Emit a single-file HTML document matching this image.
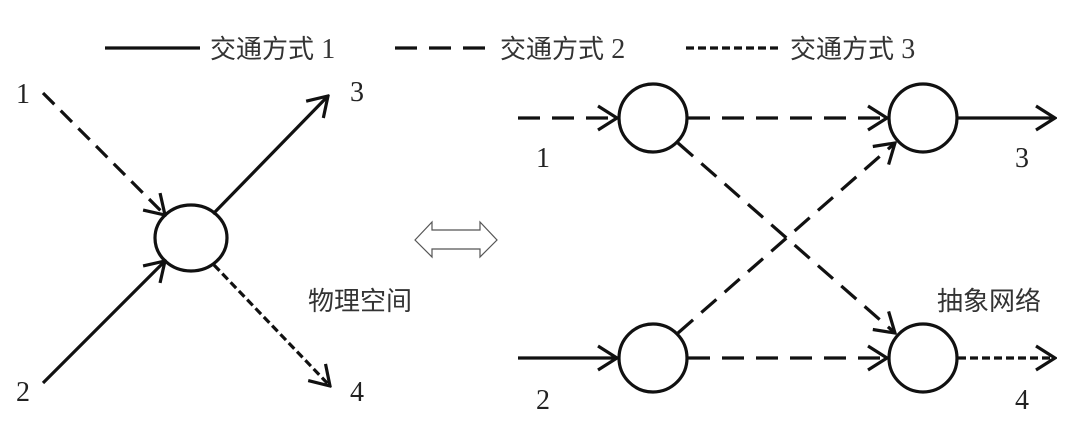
<!DOCTYPE html>
<html><head><meta charset="utf-8"><style>
html,body{margin:0;padding:0;background:#fff;}
svg{display:block;}
text{font-family:"Liberation Serif","Noto Sans CJK SC",serif;fill:#222;}
.cj{font-family:"Liberation Sans","Noto Sans CJK SC",sans-serif;fill:#333;}
</style></head><body>
<svg width="1080" height="423" viewBox="0 0 1080 423" xmlns="http://www.w3.org/2000/svg">
<defs>
<marker id="a" viewBox="0 0 24 28" refX="22" refY="14" markerWidth="24" markerHeight="28" markerUnits="userSpaceOnUse" orient="auto">
<path d="M3,2 L22,14 L3,26" fill="none" stroke="#111" stroke-width="3.2"/>
</marker>
</defs>
<g stroke="#111" stroke-width="3.2" fill="none">
<!-- legend -->
<line x1="105" y1="48" x2="200" y2="48"/>
<line x1="395" y1="48" x2="492" y2="48" stroke-dasharray="22,12"/>
<line x1="686" y1="48" x2="781" y2="48" stroke-dasharray="8,4"/>
<!-- left -->
<ellipse cx="191" cy="238" rx="36" ry="33"/>
<line x1="43" y1="93" x2="165" y2="215" stroke-dasharray="16,9" marker-end="url(#a)"/>
<line x1="43" y1="383" x2="165" y2="261" marker-end="url(#a)"/>
<line x1="213" y1="214" x2="328" y2="96" marker-end="url(#a)"/>
<line x1="214" y1="265" x2="330" y2="386" stroke-dasharray="8,4" marker-end="url(#a)"/>
<!-- right -->
<circle cx="653" cy="118" r="34"/>
<circle cx="923" cy="118" r="34"/>
<circle cx="653" cy="358" r="34"/>
<circle cx="923" cy="358" r="34"/>
<line x1="518" y1="118" x2="617" y2="118" stroke-dasharray="22,12" marker-end="url(#a)"/>
<line x1="688" y1="118" x2="887" y2="118" stroke-dasharray="22,12" marker-end="url(#a)"/>
<line x1="958" y1="118" x2="1055" y2="118" marker-end="url(#a)"/>
<line x1="518" y1="358" x2="617" y2="358" marker-end="url(#a)"/>
<line x1="688" y1="358" x2="887" y2="358" stroke-dasharray="22,12" marker-end="url(#a)"/>
<line x1="958" y1="358" x2="1055" y2="358" stroke-dasharray="8,4" marker-end="url(#a)"/>
<line x1="678" y1="143" x2="895" y2="333" stroke-dasharray="20,11" marker-end="url(#a)"/>
<line x1="678" y1="333" x2="895" y2="143" stroke-dasharray="20,11" marker-end="url(#a)"/>
</g>
<!-- double arrow -->
<path d="M415,240 L432,222 L432,230 L480,230 L480,222 L497,240 L480,257 L480,249 L432,249 L432,257 Z" fill="#fff" stroke="#555" stroke-width="1.2"/>
<g font-size="26">
<text class="cj" x="210" y="58">交通方式 <tspan font-family="Liberation Serif" font-size="28">1</tspan></text>
<text class="cj" x="500" y="58">交通方式 <tspan font-family="Liberation Serif" font-size="28">2</tspan></text>
<text class="cj" x="790" y="58">交通方式 <tspan font-family="Liberation Serif" font-size="28">3</tspan></text>
<text class="cj" x="308" y="310">物理空间</text>
<text class="cj" x="937" y="310">抽象网络</text>
</g>
<g font-size="28">
<text x="16" y="103">1</text>
<text x="16" y="401">2</text>
<text x="350" y="101">3</text>
<text x="350" y="401">4</text>
<text x="536" y="167">1</text>
<text x="536" y="409">2</text>
<text x="1015" y="167">3</text>
<text x="1015" y="409">4</text>
</g>
</svg>
</body></html>
